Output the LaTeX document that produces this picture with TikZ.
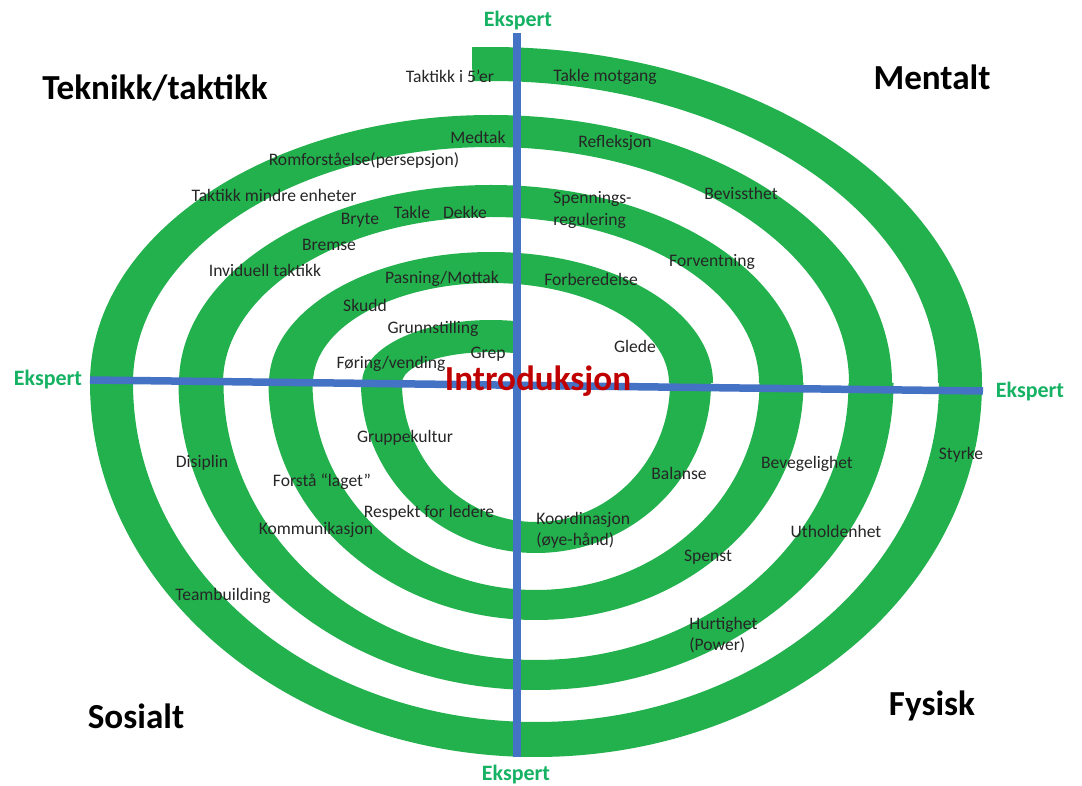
\documentclass[tikz,border=0pt]{standalone}
\usepackage{fontspec}
\setmainfont{Carlito}
\usepackage{tikz}
\definecolor{spiralgreen}{RGB}{34,177,76}
\definecolor{axisblue}{RGB}{68,114,196}
\definecolor{levelgreen}{RGB}{22,178,100}
\definecolor{introred}{RGB}{192,0,0}

\begin{document}
\begin{tikzpicture}[x=0.02cm,y=0.02cm,
        band/.style={fill=spiralgreen},
        axis/.style={draw=axisblue, line width=0.15cm},
        lbl/.style={font=\fontsize{10}{12}\selectfont, color=black!85, inner sep=0pt},
        title/.style={font=\bfseries\fontsize{20}{24}\selectfont, inner sep=0pt},
        ekspert/.style={font=\bfseries\fontsize{12.5}{14}\selectfont, color=levelgreen, inner sep=0pt}]
        \useasboundingbox[fill=white] (0,0) rectangle (1082,785);

        % spiral: half rings, upper halves round (491,402), lower halves round (536,402)
        \fill[band] \foreach \cx/\ao/\bo/\sa/\ea/\ai/\bi/\si/\ei in {
            491/129/63/78.8/180/89/31/73.7/180,
            491/222/131/0/180/178/100/0/180,
            491/312/198/0/180/268/166/0/180,
            491/401/268/0/180/358/236/0/180,
            491/491/336/0/92.2/447/302/0/92.4,
            536/175/170/180/360/134/139/180/360,
            536/267.5/237/180/360/223.5/207/180/360,
            536/357.5/307/180/360/312.5/277/180/360,
            536/446/374/180/360/403/339/180/360} {
          ({\cx+\ao*cos(\sa)},{402+\bo*sin(\sa)}) arc[start angle=\sa, end angle=\ea, x radius=\ao, y radius=\bo]
          -- ({\cx+\ai*cos(\ei)},{402+\bi*sin(\ei)}) arc[start angle=\ei, end angle=\si, x radius=\ai, y radius=\bi] -- cycle};

        % axes
        \coordinate (north) at (517,752);
        \coordinate (south) at (517,28);
        \coordinate (west) at (90,405);
        \coordinate (east) at (983,394);
        \draw[axis] (west) -- (east);
        \draw[axis] (south) -- (north);

        \node[ekspert] (eksN) at (518,764) {Ekspert};
        \node[ekspert] (eksS) at (516,10) {Ekspert};
        \node[ekspert] (eksW) at (48,405) {Ekspert};
        \node[ekspert] (eksE) at (1030,393) {Ekspert};
        \node[font=\bfseries\fontsize{20}{24}\selectfont, color=introred, inner sep=0pt] (intro) at (538,404) {Introduksjon};

        % corner titles
        \node[title] (teknikk) at (155,697) {Teknikk/taktikk};
        \node[title] (mentalt) at (932,708) {Mentalt};
        \node[title] (sosialt) at (136,69) {Sosialt};
        \node[title] (fysisk) at (932,79) {Fysisk};

        % teknikk/taktikk
        \node[lbl] (t5er) at (450,709) {Taktikk i 5’er};
        \node[lbl] (medtak) at (478,648) {Medtak};
        \node[lbl] (romf) at (364,624) {Romforståelse(persepsjon)};
        \node[lbl] (tmindre) at (274,590) {Taktikk mindre enheter};
        \node[lbl] (bryte) at (360,565) {Bryte};
        \node[lbl] (takle) at (412,573) {Takle};
        \node[lbl] (dekke) at (465,573) {Dekke};
        \node[lbl] (bremse) at (329,540) {Bremse};
        \node[lbl] (invid) at (265,515) {Inviduell taktikk};
        \node[lbl] (pasning) at (442,506) {Pasning/Mottak};
        \node[lbl] (skudd) at (365,480) {Skudd};
        \node[lbl] (grunn) at (433,456) {Grunnstilling};
        \node[lbl] (grep) at (488,431) {Grep};
        \node[lbl] (foring) at (391,421) {Føring/vending};

        % mentalt
        \node[lbl] (motgang) at (605,708) {Takle motgang};
        \node[lbl] (refl) at (615,642) {Refleksjon};
        \node[lbl, anchor=west, align=left] (spenn) at (553,575) {Spennings-\\regulering};
        \node[lbl] (bevisst) at (741,592) {Bevissthet};
        \node[lbl] (forvent) at (712,523) {Forventning};
        \node[lbl] (forbered) at (591,506) {Forberedelse};
        \node[lbl] (glede) at (635,439) {Glede};

        % sosialt
        \node[lbl] (gruppe) at (405,347) {Gruppekultur};
        \node[lbl] (disiplin) at (202,322) {Disiplin};
        \node[lbl] (forsta) at (322,303) {Forstå “laget”};
        \node[lbl] (respekt) at (429,272) {Respekt for ledere};
        \node[lbl] (kommu) at (316,255) {Kommunikasjon};
        \node[lbl] (team) at (223,189) {Teambuilding};

        % fysisk
        \node[lbl] (balanse) at (679,312) {Balanse};
        \node[lbl] (beveg) at (807,321) {Bevegelighet};
        \node[lbl] (styrke) at (961,330) {Styrke};
        \node[lbl, anchor=west, align=left] (koord) at (536,255) {Koordinasjon\\(øye-hånd)};
        \node[lbl] (uthold) at (836,254) {Utholdenhet};
        \node[lbl] (spenst) at (708,228) {Spenst};
        \node[lbl, anchor=west, align=left] (hurtig) at (689,150) {Hurtighet\\(Power)};
\end{tikzpicture}
\end{document}
